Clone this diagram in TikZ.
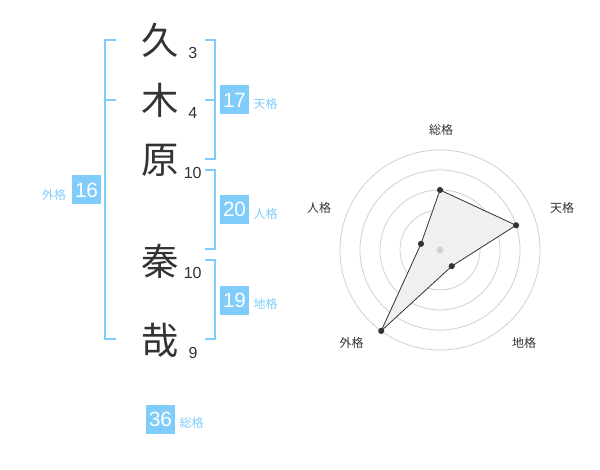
\documentclass[tikz,border=0pt]{standalone}
\usepackage{fontspec}
\setmainfont{Liberation Sans}
\newfontfamily\cjk{Noto Sans CJK JP}
\usetikzlibrary{calc}
\definecolor{kakublue}{RGB}{128,204,250}
\definecolor{inkgray}{RGB}{51,51,51}
\definecolor{ringgray}{RGB}{208,208,208}

\begin{document}
\begin{tikzpicture}[x=0.75pt,y=-0.75pt,
    moji/.style={font=\cjk\fontsize{28}{28}\selectfont, text=inkgray, inner sep=0pt},
    kakusu/.style={font=\fontsize{12}{12}\selectfont, text=inkgray, inner sep=0pt},
    kakubox/.style={fill=kakublue, text=white, minimum size=21.75pt, inner sep=0pt, font=\fontsize{15.5}{15.5}\selectfont},
    kakuname/.style={font=\cjk\fontsize{9}{9}\selectfont, text=kakublue, inner sep=0pt},
    radarname/.style={font=\cjk\fontsize{9}{9}\selectfont, text=inkgray, inner sep=0pt},
    bracket/.style={draw=kakublue, line width=1.5pt},
    ring/.style={draw=ringgray, line width=0.6pt}]
    \useasboundingbox (0,0) rectangle (600,470);

    % Name
    \node[moji] (ku) at (160,40) {久};
    \node[moji] (ki) at (160,100) {木};
    \node[moji] (hara) at (160,160) {原};
    \node[moji] (hata) at (160,261) {秦};
    \node[moji] (kana) at (160,340) {哉};
    \node[kakusu] (kus) at (192.7,53) {3};
    \node[kakusu] (kis) at (192.7,113) {4};
    \node[kakusu] (haras) at (192.7,172.5) {10};
    \node[kakusu] (hatas) at (192.7,272.5) {10};
    \node[kakusu] (kanas) at (193,352.5) {9};

    % Brackets
    \draw[bracket] (116,40) -- (105,40) -- (105,339.5) -- (116,339.5);
    \draw[bracket] (105,100) -- (116,100);
    \draw[bracket] (204.5,40) -- (214.5,40) -- (214.5,159.5) -- (204.5,159.5);
    \draw[bracket] (204.5,100) -- (214.5,100);
    \draw[bracket] (204.5,170) -- (214.5,170) -- (214.5,249.5) -- (204.5,249.5);
    \draw[bracket] (204.5,260) -- (214.5,260) -- (214.5,339.5) -- (204.5,339.5);

    % Kaku
    \node[kakubox] (ten) at (234.5,100) {17};
    \node[kakuname] (tenl) at (265.5,103.5) {天格};
    \node[kakubox] (jin) at (234.5,209.5) {20};
    \node[kakuname] (jinl) at (265.5,213.5) {人格};
    \node[kakubox] (chi) at (234.5,300.5) {19};
    \node[kakuname] (chil) at (265.5,304) {地格};
    \node[kakubox] (gai) at (86.5,190) {16};
    \node[kakuname] (gail) at (54,194.5) {外格};
    \node[kakubox] (sou) at (160.5,419) {36};
    \node[kakuname] (soul) at (191.5,422.5) {総格};

    % Radar
    \coordinate (ctr) at (440,250);
    \draw[ring] (ctr) circle (15pt);
    \draw[ring] (ctr) circle (30pt);
    \draw[ring] (ctr) circle (45pt);
    \draw[ring] (ctr) circle (60pt);
    \draw[ring] (ctr) circle (75pt);
    \coordinate (psou) at ($(ctr)+(90:45pt)$);
    \coordinate (pten) at ($(ctr)+(18:60pt)$);
    \coordinate (pchi) at ($(ctr)+(-54:15pt)$);
    \coordinate (pgai) at ($(ctr)+(-126:75pt)$);
    \coordinate (pjin) at ($(ctr)+(162:15pt)$);
    \filldraw[fill=black!6, draw=inkgray, line width=0.6pt] (psou) -- (pten) -- (pchi) -- (pgai) -- (pjin) -- cycle;
    \fill[ringgray] (ctr) circle (2.6pt);
    \fill[inkgray] (psou) circle (2.3pt);
    \fill[inkgray] (pten) circle (2.3pt);
    \fill[inkgray] (pchi) circle (2.3pt);
    \fill[inkgray] (pgai) circle (2.3pt);
    \fill[inkgray] (pjin) circle (2.3pt);
    \node[radarname] (rsou) at (441,130) {総格};
    \node[radarname] (rten) at (562,208.3) {天格};
    \node[radarname] (rjin) at (319,208.3) {人格};
    \node[radarname] (rgai) at (351.7,342.7) {外格};
    \node[radarname] (rchi) at (524,342.7) {地格};
\end{tikzpicture}
\end{document}
